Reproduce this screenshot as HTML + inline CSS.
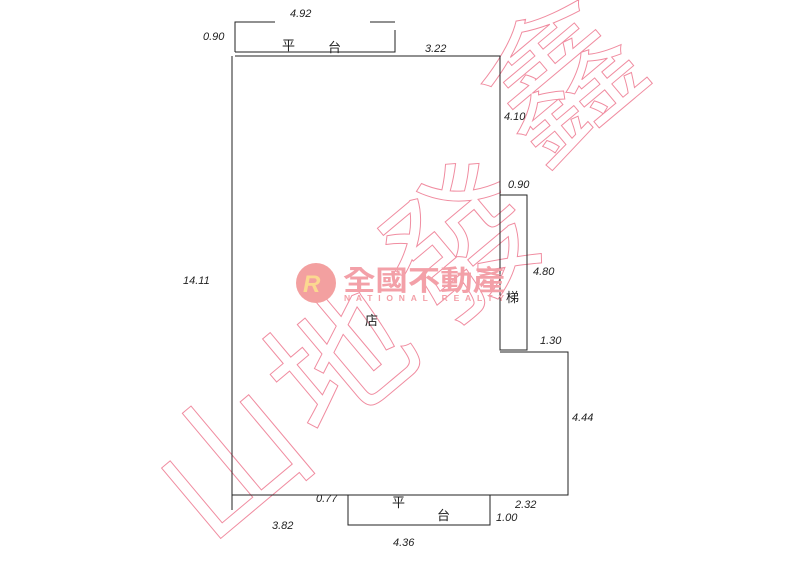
<!DOCTYPE html>
<html><head><meta charset="utf-8"><style>
html,body{margin:0;padding:0;background:#fff;width:800px;height:566px;overflow:hidden}
svg{display:block}
.d{font-family:"Liberation Sans",sans-serif;font-size:11px;fill:#222;font-style:italic}
.c{font-family:"Liberation Sans","Noto Sans CJK TC",sans-serif;font-size:13px;fill:#222}
.w{font-family:"Noto Sans CJK TC",sans-serif;fill:none;stroke:#f08ca0;stroke-width:1}
</style></head><body>
<svg width="800" height="566" viewBox="0 0 800 566" xmlns="http://www.w3.org/2000/svg">
<g class="w">
<text x="-70" y="50" font-size="145" transform="translate(230,465) rotate(-40)">山</text>
<text x="-70" y="50" font-size="140" transform="translate(340,360) rotate(-40)">地</text>
<text x="-70" y="50" font-size="150" transform="translate(460,250) rotate(-40)">發</text>
<text x="-70" y="50" font-size="150" transform="translate(560,85) rotate(-40)">鑫</text>
</g>
<g fill="none" stroke="#222" stroke-width="1">
<polyline points="235,52 235,22 275,22"/>
<line x1="370" y1="22" x2="395" y2="22"/>
<polyline points="395,30 395,52 235,52"/>
<polyline points="235,56 500,56 500,350 527,350 527,195 500,195"/>
<polyline points="232,56 232,510"/>
<polyline points="500,352 568,352 568,495 232,495"/>
<polyline points="348,495 348,525 490,525 490,495"/>
</g>
<circle cx="316" cy="283" r="20" fill="#f3a0a0"/>
<text x="303" y="292" font-family="Liberation Sans" font-weight="bold" font-style="italic" font-size="24" fill="#fbd890">R</text>
<text x="343" y="290" font-family="Noto Sans CJK TC,sans-serif" font-weight="bold" font-size="28" fill="#f3a0a8" textLength="162" lengthAdjust="spacingAndGlyphs">全國不動產</text>
<text x="344" y="301" font-family="Liberation Sans" font-weight="bold" font-size="8.5" fill="#f3a0a8" textLength="160" lengthAdjust="spacing">NATIONAL REALTY</text>
<text class="d" x="203" y="40">0.90</text>
<text class="d" x="290" y="17">4.92</text>
<text class="c" x="282" y="50">平</text>
<text class="c" x="328" y="52">台</text>
<text class="d" x="425" y="52">3.22</text>
<text class="d" x="504" y="120">4.10</text>
<text class="d" x="508" y="188">0.90</text>
<text class="d" x="533" y="275">4.80</text>
<text class="c" x="506" y="302" font-size="11">梯</text>
<text class="d" x="540" y="344">1.30</text>
<text class="d" x="572" y="421">4.44</text>
<text class="d" x="183" y="284">14.11</text>
<text class="c" x="365" y="325" font-size="12">店</text>
<text class="d" x="316" y="502">0.77</text>
<text class="c" x="392" y="507" font-size="10">平</text>
<text class="c" x="437" y="520" font-size="10">台</text>
<text class="d" x="515" y="508">2.32</text>
<text class="d" x="496" y="521">1.00</text>
<text class="d" x="272" y="529">3.82</text>
<text class="d" x="393" y="546">4.36</text>
</svg>
</body></html>
